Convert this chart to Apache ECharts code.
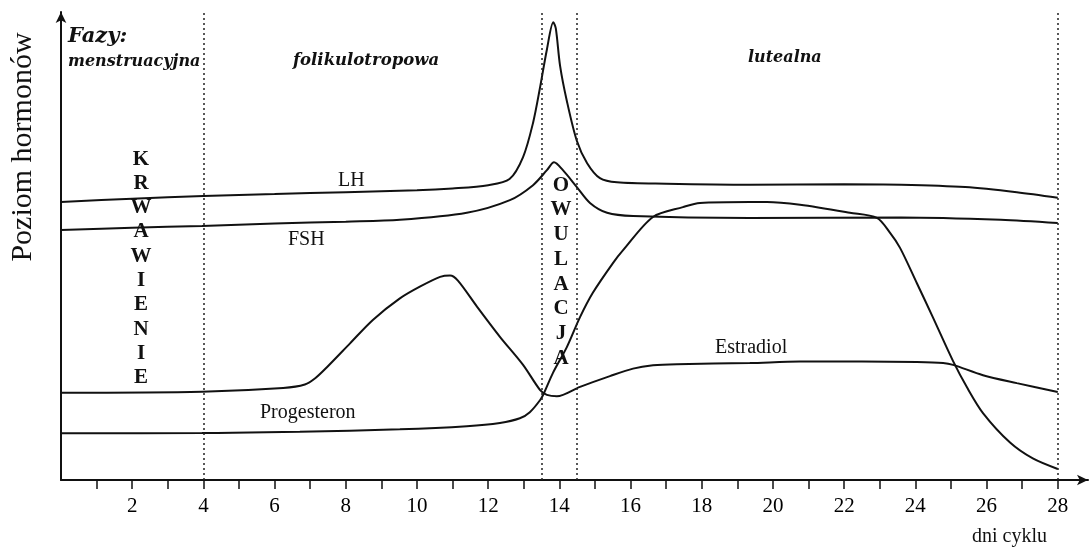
<!DOCTYPE html>
<html>
<head>
<meta charset="utf-8">
<script src="https://cdn.jsdelivr.net/npm/echarts@6/dist/echarts.min.js"></script>
<style>
  html, body { margin: 0; padding: 0; background: #fff; }
  #main { width: 1091px; height: 551px; }
</style>
</head>
<body>
<div id="main"></div>
<script>
// poziomy hormonow, [dzien cyklu, poziom]
var lhData = [[0,59.4],[2,60.1],[4,60.7],[6,61.1],[8,61.5],[10,61.9],[11,62.3],[12,63.0],[12.6,64.3],[12.98,69],
  [13.26,76.3],[13.46,84],[13.65,92],[13.83,97.8],[13.9,96.5],[14.02,88.5],[14.21,81],[14.49,72.5],[14.78,67.7],
  [15.14,64.5],[15.62,63.6],[17,63.3],[19.35,63.1],[22,63.2],[23.6,63.1],[25.4,62.6],[26.85,61.5],[28,60.3]];
var fshData = [[0,53.4],[2,53.9],[3.96,54.3],[6,54.8],[8,55.2],[9.52,55.6],[11.4,57.1],[12.61,59.8],[13.26,63.0],
  [13.65,66.2],[13.85,67.9],[14.1,66.2],[14.49,62.6],[14.86,59.2],[15.34,57.1],[16.07,56.4],[19.35,56.0],
  [23.6,56.1],[26.4,55.6],[28,54.9]];
var estradiolData = [[0,18.65],[3.96,18.87],[6.24,19.66],[6.85,20.4],[7.15,21.8],[7.47,24.1],[8.12,29.2],[8.76,34.2],
  [9.52,38.8],[10.08,41.3],[10.65,43.4],[10.93,43.7],[11.15,42.6],[11.69,37.0],[12.33,30.6],[12.98,24.6],[13.46,19.2],
  [13.65,18.2],[13.93,17.9],[14.58,19.9],[15.42,22.2],[16.07,23.8],[16.63,24.5],[17.3,24.75],[19.35,25.0],
  [20.76,25.3],[22.5,25.3],[24.04,25.2],[24.78,25.0],[25.06,24.6],[25.9,22.4],[26.85,20.7],[28,18.8]];
var progesteronData = [[0,9.98],[3.96,10.04],[4.83,10.1],[6.71,10.3],[9.52,10.83],[11.4,11.5],[12.33,12.2],[12.89,13.2],
  [13.17,14.5],[13.46,17.1],[13.57,18.6],[13.82,22.9],[14.21,28.4],[14.58,34.8],[14.94,40.0],[15.51,46.4],
  [15.79,49.1],[16.63,56.2],[17.47,58.3],[17.95,59.2],[19.35,59.4],[19.83,59.4],[20.76,58.8],[22.16,57.1],
  [22.92,56.0],[23.29,52.8],[23.57,49.6],[24.04,42.1],[24.49,34.8],[25.06,25.4],[25.45,19.8],[25.9,14.3],
  [26.66,8.0],[27.3,4.6],[28,2.35]];

var phaseLines = [4, 13.5, 14.5, 28];
var tickDays = [1,2,3,4,5,6,7,8,9,10,11,12,13,14,15,16,17,18,19,20,21,22,23,24,25,26,27,28];
var labelDays = [2,4,6,8,10,12,14,16,18,20,22,24,26,28];
var krwawienie = ['K','R','W','A','W','I','E','N','I','E'];
var owulacja = ['O','W','U','L','A','C','J','A'];

var serif = 'Liberation Serif, DejaVu Serif, serif';
var wideSerif = 'DejaVu Serif, Liberation Serif, serif';

function lineSeries(name, data) {
  return {
    name: name,
    type: 'line',
    data: data,
    smooth: 0.3,
    showSymbol: false,
    lineStyle: { color: '#111', width: 2 },
    z: 3
  };
}

var series = [
  lineSeries('LH', lhData),
  lineSeries('FSH', fshData),
  lineSeries('Estradiol', estradiolData),
  lineSeries('Progesteron', progesteronData)
];
// przerywane linie faz
series[0].markLine = {
  silent: true,
  symbol: 'none',
  label: { show: false },
  lineStyle: { color: '#222', type: [2, 3], width: 1.5 },
  data: phaseLines.map(function (d) { return { xAxis: d }; })
};

function txt(text, x, y, font, extra) {
  var st = { text: text, fill: '#111', font: font, textAlign: 'left', textVerticalAlign: 'middle' };
  for (var k in extra) st[k] = extra[k];
  return { type: 'text', x: x, y: y, style: st, z: 10 };
}

var yTitle = txt('Poziom hormonów', 23, 147, '30px ' + serif, { textAlign: 'center' });
yTitle.rotation = Math.PI / 2;

var option = {
  animation: false,
  backgroundColor: '#fff',
  grid: { left: 61, right: 3, top: 12, bottom: 71 },
  xAxis: {
    type: 'value',
    min: 0,
    max: 28.85,
    splitLine: { show: false },
    axisLine: { lineStyle: { color: '#111', width: 2 }, symbol: ['none', 'arrow'], symbolSize: [8, 11] },
    axisTick: { customValues: tickDays, length: 9, lineStyle: { color: '#111', width: 1.5 } },
    axisLabel: {
      customValues: labelDays,
      margin: 16,
      color: '#000',
      fontFamily: serif,
      fontSize: 21
    }
  },
  yAxis: {
    type: 'value',
    min: 0,
    max: 100,
    splitLine: { show: false },
    axisTick: { show: false },
    axisLabel: { show: false },
    axisLine: { show: true, lineStyle: { color: '#111', width: 2 }, symbol: ['none', 'arrow'], symbolSize: [8, 11] }
  },
  series: series,
  graphic: [
    yTitle,
    txt('Fazy:', 68, 37, 'italic bold 21px ' + wideSerif),
    txt('menstruacyjna', 68, 62, 'italic bold 16px ' + wideSerif),
    txt('folikulotropowa', 293, 61, 'italic bold 16.5px ' + wideSerif),
    txt('lutealna', 748, 58, 'italic bold 16px ' + wideSerif),
    txt('LH', 338, 181, '20px ' + serif),
    txt('FSH', 288, 240, '20px ' + serif),
    txt('Progesteron', 260, 413, '20px ' + serif),
    txt('Estradiol', 715, 348, '20px ' + serif),
    txt('dni cyklu', 972, 537, '20px ' + serif),
    txt(krwawienie.join('\n'), 141, 147, 'bold 21px ' + serif, { textAlign: 'center', textVerticalAlign: 'top', lineHeight: 24.3 }),
    txt(owulacja.join('\n'), 561, 173, 'bold 21px ' + serif, { textAlign: 'center', textVerticalAlign: 'top', lineHeight: 24.7 })
  ]
};

var myChart = echarts.init(document.getElementById('main'));
myChart.setOption(option);
</script>
</body>
</html>
